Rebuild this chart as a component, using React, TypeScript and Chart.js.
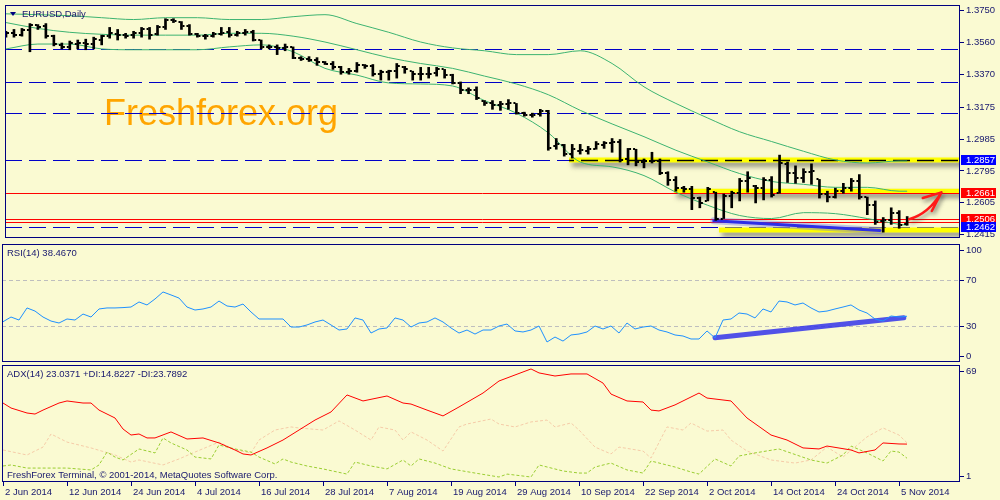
import React, { useEffect, useRef } from 'react';
import { Chart, registerables } from 'chart.js';

Chart.register(...registerables);

// ---------------- data ----------------
const opens = [
  1.3604, 1.3615, 1.3604, 1.3633, 1.3662, 1.3656, 1.3598, 1.3546, 1.3534, 1.3551,
  1.3557, 1.3551, 1.3575, 1.3598, 1.3609, 1.3604, 1.3604, 1.3615, 1.3638, 1.3609,
  1.3650, 1.3697, 1.3685, 1.3656, 1.3609, 1.3598, 1.3598, 1.3609, 1.3621, 1.3604,
  1.3615, 1.3621, 1.3575, 1.3534, 1.3534, 1.3528, 1.3534, 1.3470, 1.3464, 1.3458,
  1.3441, 1.3435, 1.3412, 1.3383, 1.3389, 1.3429, 1.3418, 1.3371, 1.3383, 1.3389,
  1.3412, 1.3389, 1.3371, 1.3371, 1.3377, 1.3400, 1.3366, 1.3319, 1.3278, 1.3278,
  1.3214, 1.3197, 1.3185, 1.3191, 1.3197, 1.3139, 1.3127, 1.3133, 1.3150, 1.2941,
  1.2947, 1.2895, 1.2912, 1.2912, 1.2924, 1.2947, 1.2964, 1.2970, 1.2866, 1.2924,
  1.2848, 1.2854, 1.2854, 1.2784, 1.2738, 1.2692, 1.2686, 1.2633, 1.2616, 1.2668,
  1.2511, 1.2645, 1.2662, 1.2732, 1.2703, 1.2692, 1.2738, 1.2662, 1.2837, 1.2784,
  1.2750, 1.2790, 1.2744, 1.2657, 1.2639, 1.2674, 1.2692, 1.2732, 1.2639, 1.2593,
  1.2494, 1.2505, 1.2546, 1.2476,
];
const highs = [
  1.3627, 1.3638, 1.3644, 1.3673, 1.3667, 1.3673, 1.3604, 1.3557, 1.3569, 1.3575,
  1.3580, 1.3592, 1.3604, 1.3650, 1.3638, 1.3615, 1.3627, 1.3650, 1.3650, 1.3662,
  1.3702, 1.3702, 1.3685, 1.3667, 1.3615, 1.3609, 1.3621, 1.3650, 1.3650, 1.3627,
  1.3638, 1.3633, 1.3575, 1.3546, 1.3546, 1.3551, 1.3534, 1.3476, 1.3476, 1.3470,
  1.3447, 1.3447, 1.3418, 1.3406, 1.3441, 1.3429, 1.3429, 1.3395, 1.3395, 1.3435,
  1.3418, 1.3389, 1.3412, 1.3412, 1.3412, 1.3400, 1.3371, 1.3325, 1.3290, 1.3296,
  1.3214, 1.3214, 1.3209, 1.3220, 1.3197, 1.3145, 1.3139, 1.3162, 1.3156, 1.2988,
  1.2953, 1.2953, 1.2953, 1.2941, 1.2970, 1.2970, 1.2988, 1.2982, 1.2929, 1.2924,
  1.2866, 1.2906, 1.2866, 1.2790, 1.2761, 1.2703, 1.2703, 1.2639, 1.2697, 1.2668,
  1.2657, 1.2674, 1.2750, 1.2790, 1.2709, 1.2755, 1.2761, 1.2889, 1.2848, 1.2825,
  1.2808, 1.2837, 1.2744, 1.2674, 1.2692, 1.2721, 1.2750, 1.2773, 1.2639, 1.2616,
  1.2517, 1.2575, 1.2558, 1.2523,
];
const lows = [
  1.3592, 1.3592, 1.3598, 1.3505, 1.3638, 1.3586, 1.3540, 1.3522, 1.3517, 1.3522,
  1.3517, 1.3522, 1.3546, 1.3586, 1.3575, 1.3586, 1.3586, 1.3592, 1.3580, 1.3604,
  1.3638, 1.3679, 1.3638, 1.3604, 1.3592, 1.3580, 1.3592, 1.3604, 1.3592, 1.3598,
  1.3604, 1.3569, 1.3522, 1.3522, 1.3488, 1.3511, 1.3464, 1.3453, 1.3447, 1.3424,
  1.3429, 1.3400, 1.3371, 1.3371, 1.3383, 1.3406, 1.3360, 1.3336, 1.3336, 1.3348,
  1.3377, 1.3336, 1.3336, 1.3348, 1.3360, 1.3348, 1.3313, 1.3255, 1.3255, 1.3220,
  1.3185, 1.3162, 1.3156, 1.3162, 1.3133, 1.3121, 1.3115, 1.3121, 1.2918, 1.2924,
  1.2883, 1.2871, 1.2895, 1.2895, 1.2924, 1.2929, 1.2906, 1.2848, 1.2831, 1.2825,
  1.2813, 1.2842, 1.2773, 1.2709, 1.2674, 1.2668, 1.2564, 1.2575, 1.2616, 1.2500,
  1.2511, 1.2575, 1.2616, 1.2668, 1.2604, 1.2622, 1.2639, 1.2662, 1.2726, 1.2721,
  1.2726, 1.2715, 1.2633, 1.2610, 1.2633, 1.2662, 1.2674, 1.2627, 1.2534, 1.2476,
  1.2430, 1.2476, 1.2453, 1.2471,
];
const closes = [
  1.3615, 1.3604, 1.3633, 1.3662, 1.3650, 1.3598, 1.3551, 1.3534, 1.3557, 1.3557,
  1.3551, 1.3580, 1.3598, 1.3615, 1.3604, 1.3598, 1.3615, 1.3638, 1.3604, 1.3650,
  1.3697, 1.3691, 1.3656, 1.3609, 1.3598, 1.3598, 1.3609, 1.3615, 1.3604, 1.3615,
  1.3621, 1.3575, 1.3534, 1.3534, 1.3528, 1.3534, 1.3470, 1.3464, 1.3458, 1.3441,
  1.3435, 1.3412, 1.3383, 1.3389, 1.3429, 1.3418, 1.3371, 1.3383, 1.3389, 1.3418,
  1.3400, 1.3371, 1.3371, 1.3371, 1.3400, 1.3366, 1.3319, 1.3278, 1.3278, 1.3232,
  1.3197, 1.3185, 1.3191, 1.3197, 1.3139, 1.3127, 1.3127, 1.3150, 1.2929, 1.2953,
  1.2895, 1.2924, 1.2918, 1.2924, 1.2953, 1.2964, 1.2970, 1.2860, 1.2924, 1.2848,
  1.2854, 1.2854, 1.2784, 1.2738, 1.2692, 1.2686, 1.2633, 1.2604, 1.2686, 1.2511,
  1.2645, 1.2662, 1.2732, 1.2750, 1.2692, 1.2738, 1.2651, 1.2842, 1.2784, 1.2750,
  1.2790, 1.2796, 1.2657, 1.2639, 1.2674, 1.2692, 1.2732, 1.2639, 1.2593, 1.2488,
  1.2505, 1.2546, 1.2471, 1.2506,
];

// Bollinger bands (20, 2) read every 4 bars
const bbIdx = [0, 4, 8, 12, 16, 20, 24, 28, 32, 36, 40, 44, 48, 52, 56, 60, 64, 68, 72, 76, 80, 84, 88, 92, 96, 100, 104, 108, 112, 113];
const bbUpper = [
  1.3731, 1.3726, 1.3720, 1.3708, 1.3697, 1.3708, 1.3708, 1.3697, 1.3697, 1.3714,
  1.3726, 1.3673, 1.3621, 1.3563, 1.3528, 1.3511, 1.3488, 1.3488, 1.3511, 1.3435,
  1.3296, 1.3197, 1.3110, 1.3028, 1.2970, 1.2912, 1.2860, 1.2842, 1.2854, 1.2854,
];
const bbMiddle = [
  1.3679, 1.3644, 1.3621, 1.3609, 1.3604, 1.3604, 1.3604, 1.3615, 1.3615, 1.3598,
  1.3563, 1.3517, 1.3470, 1.3435, 1.3406, 1.3360, 1.3313, 1.3249, 1.3156, 1.3075,
  1.2999, 1.2918, 1.2848, 1.2779, 1.2732, 1.2715, 1.2697, 1.2697, 1.2674, 1.2674,
];
const bbLower = [
  1.3522, 1.3551, 1.3551, 1.3522, 1.3517, 1.3517, 1.3517, 1.3534, 1.3546, 1.3505,
  1.3406, 1.3366, 1.3319, 1.3313, 1.3301, 1.3214, 1.3139, 1.3022, 1.2848, 1.2819,
  1.2767, 1.2668, 1.2590, 1.2529, 1.2511, 1.2546, 1.2540, 1.2511, 1.2476, 1.2471,
];

const priceTicks = [1.2415, 1.2605, 1.2795, 1.2985, 1.3175, 1.3370, 1.3560, 1.3750];
const xTickIdx = [0, 8, 16, 24, 32, 40, 48, 56, 64, 72, 80, 88, 96, 104, 112];
const xTickLabels = [
  '2 Jun 2014', '12 Jun 2014', '24 Jun 2014', '4 Jul 2014', '16 Jul 2014', '28 Jul 2014',
  '7 Aug 2014', '19 Aug 2014', '29 Aug 2014', '10 Sep 2014', '22 Sep 2014', '2 Oct 2014',
  '14 Oct 2014', '24 Oct 2014', '5 Nov 2014',
];

// drawn objects on the price pane
const dashedLevels = [1.3522, 1.3325, 1.3139, 1.2857, 1.2462];
const redLevels = [1.2661, 1.2506, 1.2492];
const yellowLevels = [1.2860, 1.2674, 1.2442];
const yellowStartIdx = [70.6, 83.75, 89.4];
const trendIdx = [88.75, 109.6];
const trendVal = [1.2498, 1.2440];
const arrowShaftIdx = [113.25, 115.7, 117.3];
const arrowShaftVal = [1.2507, 1.2540, 1.2667];
const arrowBarbIdx = [114.96, 116.09];
const arrowBarbVal = [1.2633, 1.2556];
const tagValues = [1.2857, 1.2661, 1.2506, 1.2462];
const tagColors = ['#0000FF', '#FF0000', '#FF0000', '#0000FF'];

// RSI(14)
const rsiVal = [
  33.7, 37.8, 35.2, 45.7, 43.0, 37.8, 34.3, 32.6, 36.1, 35.2,
  40.4, 37.8, 44.8, 45.7, 45.7, 46.0, 46.5, 50.9, 48.3, 53.5,
  59.6, 57.0, 54.3, 46.5, 43.9, 44.8, 46.5, 51.7, 47.4, 46.5,
  49.1, 42.2, 36.1, 36.1, 36.1, 36.1, 29.1, 29.1, 30.9, 33.5,
  35.2, 30.9, 26.5, 27.4, 37.0, 35.2, 23.9, 27.4, 28.3, 37.0,
  35.2, 29.1, 32.6, 33.5, 37.0, 33.5, 28.3, 23.9, 26.5, 23.0,
  26.5, 26.5, 30.0, 31.7, 25.7, 24.8, 26.5, 30.0, 16.1, 20.4,
  16.9, 22.2, 23.0, 24.8, 30.0, 27.4, 30.0, 23.9, 32.6, 27.4,
  29.1, 30.0, 26.5, 24.8, 22.2, 21.3, 18.7, 18.7, 25.7, 19.6,
  35.2, 36.1, 41.3, 40.4, 37.0, 44.8, 42.2, 51.7, 50.9, 48.3,
  50.0, 45.7, 42.2, 43.0, 44.8, 46.5, 48.3, 43.9, 41.3, 36.1,
  34.3, 38.7, 37.8, 38.47,
];
const rsiLevels = [30, 70];
const rsiTicks = [100, 70, 30, 0];
const rsiTrendIdx = [89, 112.6];
const rsiTrendVal = [19.8, 37.2];

// ADX(14), +DI, -DI
const adxIdx = [0, 1, 3, 4, 5, 7, 8, 10, 11, 12, 14, 15, 16, 17, 18, 19, 21, 23, 25, 27, 29, 30, 31, 33, 35, 37, 39, 41, 43, 45, 48, 50, 51, 53, 55, 57, 60, 62, 64, 66, 67, 69, 71, 73, 75, 76, 78, 80, 81, 82, 84, 87, 88, 91, 93, 96, 98, 100, 102, 103, 106, 107, 109, 110, 112, 113];
const adxVal = [46.9, 44.0, 41.1, 40.5, 42.8, 46.9, 48.1, 46.9, 46.9, 42.8, 38.2, 31.8, 28.3, 28.9, 26.6, 26.6, 30.1, 26.0, 26.6, 23.7, 19.6, 17.3, 16.7, 20.8, 25.4, 31.2, 37.0, 41.7, 51.6, 48.1, 51.0, 46.9, 46.3, 42.8, 39.4, 44.6, 52.7, 59.7, 63.2, 66.7, 64.4, 62.6, 63.8, 63.8, 58.5, 52.1, 48.1, 47.5, 42.8, 42.3, 45.8, 52.7, 49.8, 48.1, 38.2, 28.3, 25.4, 20.8, 20.2, 21.9, 19.6, 17.9, 19.6, 23.7, 23.1, 23.04];
const pdiIdx = [0, 1, 3, 6, 8, 11, 12, 13, 14, 15, 17, 19, 20, 21, 23, 24, 26, 27, 29, 31, 32, 34, 35, 36, 38, 40, 43, 44, 46, 48, 50, 51, 52, 54, 56, 59, 62, 63, 66, 67, 70, 72, 73, 74, 76, 78, 80, 81, 84, 86, 87, 89, 91, 92, 94, 97, 101, 103, 105, 106, 108, 110, 111, 112, 113];
const pdiVal = [10.3, 10.9, 9.1, 9.1, 9.1, 8.0, 10.9, 18.4, 15.5, 13.8, 20.2, 17.9, 26.6, 23.7, 19.6, 15.5, 14.4, 22.5, 20.2, 18.4, 15.5, 11.5, 14.4, 12.6, 10.3, 8.6, 5.6, 12.6, 10.3, 8.6, 13.8, 10.3, 14.4, 12.0, 8.6, 6.2, 3.9, 5.6, 3.9, 10.9, 7.4, 6.2, 6.2, 9.7, 12.0, 8.0, 6.2, 13.2, 9.7, 6.8, 5.6, 14.4, 10.3, 16.1, 17.9, 20.2, 13.8, 12.0, 16.7, 21.9, 17.9, 13.2, 19.0, 18.4, 14.82];
const mdiIdx = [0, 3, 5, 6, 8, 11, 14, 16, 17, 20, 22, 24, 27, 29, 31, 32, 34, 36, 37, 40, 42, 44, 46, 47, 49, 50, 51, 53, 55, 57, 58, 61, 62, 64, 66, 68, 69, 71, 72, 74, 76, 77, 80, 81, 83, 85, 86, 88, 90, 91, 93, 96, 99, 101, 103, 105, 108, 110, 112, 113];
const mdiVal = [19.6, 16.7, 21.3, 28.9, 24.2, 20.8, 16.7, 12.6, 13.8, 10.9, 14.4, 18.4, 24.2, 19.6, 17.9, 25.4, 31.2, 33.0, 32.4, 31.2, 36.5, 31.2, 25.4, 33.0, 31.2, 25.4, 30.1, 25.4, 19.0, 33.0, 34.7, 37.6, 34.7, 33.0, 35.9, 37.0, 33.0, 35.3, 31.2, 21.3, 17.3, 21.3, 19.0, 14.9, 33.0, 31.2, 35.3, 30.6, 31.2, 25.4, 19.0, 13.8, 12.0, 13.8, 21.3, 15.5, 27.2, 32.4, 28.3, 23.79];
const adxTicks = [69, 1];

// ---------------- styling ----------------
const X_MIN = -0.125;
const X_MAX = 119.625;
const BG = '#FAFAD2';
const NAVY = '#000080';
const TEXT = '#17176E';
const GREEN = '#3CB371';
const FONT = '"Liberation Sans", Arial, sans-serif';
const FS = 9.5;

const crisp = (v: number) => Math.round(v) + 0.5;
function hline(ctx: CanvasRenderingContext2D, x0: number, y: number, x1: number) {
  ctx.beginPath();
  ctx.moveTo(x0, y);
  ctx.lineTo(x1, y);
  ctx.stroke();
}
function drawFrame(chart: any) {
  const { ctx, chartArea: a } = chart;
  ctx.save();
  ctx.strokeStyle = NAVY;
  ctx.lineWidth = 1;
  ctx.strokeRect(a.left + 0.5, a.top + 0.5, a.right - a.left - 1, a.bottom - a.top - 1);
  ctx.restore();
}
function drawLabel(ctx: CanvasRenderingContext2D, text: string, x: number, y: number) {
  ctx.save();
  ctx.font = `${FS}px ${FONT}`;
  ctx.fillStyle = TEXT;
  ctx.textAlign = 'left';
  ctx.textBaseline = 'middle';
  ctx.fillText(text, x, y);
  ctx.restore();
}
function drawSideLabels(chart: any, values: number[]) {
  const { ctx, chartArea: a } = chart;
  const s = chart.scales.y;
  ctx.save();
  ctx.strokeStyle = NAVY;
  ctx.lineWidth = 1;
  values.forEach((v) => {
    let py = s.getPixelForValue(v);
    py = Math.min(Math.max(py, a.top + 6), a.bottom - 6);
    hline(ctx, a.right, crisp(py), a.right + 4);
    drawLabel(ctx, String(v), a.right + 6, py);
  });
  ctx.restore();
}
function makeTick(left: boolean) {
  const c = document.createElement('canvas');
  c.width = 8;
  c.height = 2;
  const g = c.getContext('2d')!;
  g.fillStyle = '#000000';
  if (left) g.fillRect(1, 0, 2, 2);
  else g.fillRect(5, 0, 2, 2);
  return c;
}
function hiddenX() {
  return { type: 'linear', min: X_MIN, max: X_MAX, offset: false, display: false };
}
function sideY(min: number, max: number) {
  return {
    type: 'linear', position: 'right', min, max,
    ticks: { display: false }, grid: { display: false }, border: { display: false },
    afterFit: (s: any) => { s.width = 40; s.paddingTop = 0; s.paddingBottom = 0; },
  };
}
function base(padding: any) {
  return {
    responsive: false, animation: false, devicePixelRatio: 1, events: [],
    layout: { padding },
    plugins: { legend: { display: false }, tooltip: { enabled: false } },
  };
}
const pts = (idx: number[], vals: number[]) => idx.map((x, k) => ({ x, y: vals[k] }));

const pricePlugin = {
  id: 'pricePane',
  beforeDatasetsDraw(chart: any) {
    const { ctx, chartArea: a } = chart;
    const xs = chart.scales.x;
    const ys = chart.scales.y;
    ctx.save();
    ctx.beginPath();
    ctx.rect(a.left, a.top, a.right - a.left, a.bottom - a.top);
    ctx.clip();
    ctx.font = `36px ${FONT}`;
    ctx.fillStyle = '#FFA500';
    ctx.textAlign = 'left';
    ctx.textBaseline = 'alphabetic';
    ctx.fillText('Freshforex.org', a.left + 99, a.top + 120);

    ctx.lineWidth = 1;
    ctx.strokeStyle = '#0000C8';
    ctx.setLineDash([17, 7]);
    dashedLevels.forEach((v) => hline(ctx, a.left, crisp(ys.getPixelForValue(v)), a.right));
    ctx.setLineDash([]);

    yellowLevels.forEach((v, k) => {
      const py = ys.getPixelForValue(v);
      const x0 = xs.getPixelForValue(yellowStartIdx[k]);
      ctx.save();
      ctx.shadowColor = 'rgba(60,60,60,0.6)';
      ctx.shadowBlur = 5;
      ctx.shadowOffsetX = 3;
      ctx.shadowOffsetY = 4;
      ctx.strokeStyle = '#FFFF00';
      ctx.lineWidth = 5;
      hline(ctx, x0, py, a.right + 10);
      ctx.restore();
      dashedLevels.forEach((d) => {
        const dy = crisp(ys.getPixelForValue(d));
        if (Math.abs(dy - py) < 2) {
          ctx.save();
          ctx.beginPath();
          ctx.rect(x0, dy - 3, a.right - x0, 6);
          ctx.clip();
          ctx.setLineDash([17, 7]);
          ctx.strokeStyle = '#000000';
          ctx.lineWidth = 1.5;
          hline(ctx, a.left, dy, a.right);
          ctx.restore();
        }
      });
    });

    ctx.strokeStyle = '#FF0000';
    ctx.lineWidth = 1;
    redLevels.forEach((v) => hline(ctx, a.left, crisp(ys.getPixelForValue(v)), a.right));

    const tx0 = xs.getPixelForValue(trendIdx[0]);
    const ty0 = ys.getPixelForValue(trendVal[0]);
    const tx1 = xs.getPixelForValue(trendIdx[1]);
    const ty1 = ys.getPixelForValue(trendVal[1]);
    ctx.lineCap = 'round';
    ctx.strokeStyle = 'rgba(90,90,255,0.35)';
    ctx.lineWidth = 7;
    ctx.beginPath(); ctx.moveTo(tx0, ty0); ctx.lineTo(tx1, ty1); ctx.stroke();
    ctx.strokeStyle = '#2E2EE6';
    ctx.lineWidth = 3;
    ctx.beginPath(); ctx.moveTo(tx0, ty0); ctx.lineTo(tx1, ty1); ctx.stroke();
    ctx.restore();
  },
  afterDatasetsDraw(chart: any) {
    const { ctx } = chart;
    const xs = chart.scales.x;
    const ys = chart.scales.y;
    const p = arrowShaftIdx.map((v, k) => [xs.getPixelForValue(v), ys.getPixelForValue(arrowShaftVal[k])]);
    ctx.save();
    ctx.shadowColor = 'rgba(60,60,60,0.55)';
    ctx.shadowBlur = 4;
    ctx.shadowOffsetX = 2;
    ctx.shadowOffsetY = 3;
    ctx.strokeStyle = '#FF1A1A';
    ctx.lineWidth = 2.5;
    ctx.lineCap = 'round';
    ctx.lineJoin = 'round';
    ctx.beginPath();
    ctx.moveTo(p[0][0], p[0][1]);
    ctx.quadraticCurveTo(p[1][0], p[1][1], p[2][0], p[2][1]);
    arrowBarbIdx.forEach((v, k) => {
      ctx.moveTo(p[2][0], p[2][1]);
      ctx.lineTo(xs.getPixelForValue(v), ys.getPixelForValue(arrowBarbVal[k]));
    });
    ctx.stroke();
    ctx.restore();
  },
  afterDraw(chart: any) {
    const { ctx, chartArea: a } = chart;
    const ys = chart.scales.y;
    drawFrame(chart);
    ctx.save();
    ctx.fillStyle = NAVY;
    ctx.beginPath();
    ctx.moveTo(a.left + 5, a.top + 7);
    ctx.lineTo(a.left + 11, a.top + 7);
    ctx.lineTo(a.left + 8, a.top + 11);
    ctx.closePath();
    ctx.fill();
    ctx.restore();
    drawLabel(ctx, 'EURUSD,Daily', a.left + 17, a.top + 9);
    ctx.save();
    ctx.font = `${FS}px ${FONT}`;
    ctx.textAlign = 'left';
    ctx.textBaseline = 'middle';
    tagValues.forEach((v, k) => {
      const py = Math.round(ys.getPixelForValue(v));
      ctx.fillStyle = tagColors[k];
      ctx.fillRect(a.right + 1, py - 5, 35, 10);
      ctx.fillStyle = '#FFFFFF';
      ctx.fillText(v.toFixed(4), a.right + 6, py);
    });
    ctx.restore();
  },
};

const rsiPlugin = {
  id: 'rsiPane',
  beforeDatasetsDraw(chart: any) {
    const { ctx, chartArea: a } = chart;
    const ys = chart.scales.y;
    ctx.save();
    ctx.strokeStyle = '#BEBEBE';
    ctx.lineWidth = 1;
    ctx.setLineDash([4, 3]);
    rsiLevels.forEach((v) => hline(ctx, a.left, crisp(ys.getPixelForValue(v)), a.right));
    ctx.restore();
  },
  afterDraw(chart: any) {
    const { ctx, chartArea: a } = chart;
    drawFrame(chart);
    drawLabel(ctx, 'RSI(14) 38.4670', a.left + 5, a.top + 9);
    drawSideLabels(chart, rsiTicks);
  },
};

const adxPlugin = {
  id: 'adxPane',
  afterDraw(chart: any) {
    const { ctx, chartArea: a } = chart;
    drawFrame(chart);
    drawLabel(ctx, 'ADX(14) 23.0371 +DI:14.8227 -DI:23.7892', a.left + 5, a.top + 9);
    drawLabel(ctx, 'FreshForex Terminal, © 2001-2014, MetaQuotes Software Corp.', a.left + 5, a.bottom - 7);
    drawSideLabels(chart, adxTicks);
  },
};

export default function App() {
  const pRef = useRef<HTMLCanvasElement>(null);
  const rRef = useRef<HTMLCanvasElement>(null);
  const aRef = useRef<HTMLCanvasElement>(null);

  useEffect(() => {
    const openImg = makeTick(true);
    const closeImg = makeTick(false);
    const bb = (vals: number[]) => ({
      type: 'line', data: pts(bbIdx, vals), borderColor: GREEN, borderWidth: 1,
      pointRadius: 0, cubicInterpolationMode: 'monotone', fill: false, order: 3,
    });
    const charts: Chart[] = [];

    charts.push(new Chart(pRef.current as HTMLCanvasElement, {
      type: 'line',
      data: {
        datasets: [
          bb(bbUpper), bb(bbMiddle), bb(bbLower),
          {
            type: 'bar', data: highs.map((h, i) => ({ x: i, y: [lows[i], h] })),
            backgroundColor: '#000000', borderWidth: 0, barThickness: 2, order: 1,
          },
          { type: 'line', showLine: false, data: opens.map((v, i) => ({ x: i, y: v })), pointStyle: openImg, pointRadius: 3, order: 0 },
          { type: 'line', showLine: false, data: closes.map((v, i) => ({ x: i, y: v })), pointStyle: closeImg, pointRadius: 3, order: 0 },
        ],
      } as any,
      options: {
        ...base({ left: 2, top: 2, right: 0, bottom: 2 }),
        scales: {
          x: hiddenX(),
          y: {
            type: 'linear', position: 'right', min: 1.2395, max: 1.37837,
            afterBuildTicks: (s: any) => { s.ticks = priceTicks.map((v) => ({ value: v })); },
            afterFit: (s: any) => { s.width = 40; s.paddingTop = 0; s.paddingBottom = 0; },
            ticks: { autoSkip: false, padding: 2, color: TEXT, font: { family: FONT, size: FS }, callback: (v: any) => Number(v).toFixed(4) },
            grid: { drawOnChartArea: false, drawTicks: true, tickLength: 4, color: NAVY },
            border: { display: false },
          },
        },
      } as any,
      plugins: [pricePlugin],
    }));

    charts.push(new Chart(rRef.current as HTMLCanvasElement, {
      type: 'line',
      data: {
        datasets: [
          { data: rsiVal.map((v, i) => ({ x: i, y: v })), borderColor: '#1E90FF', borderWidth: 1, pointRadius: 0, order: 0 },
          { data: pts(rsiTrendIdx, rsiTrendVal), borderColor: 'rgba(50,50,235,0.85)', borderWidth: 5, pointRadius: 0, borderCapStyle: 'round', order: 1 },
        ],
      } as any,
      options: {
        ...base({ left: 2, top: 1, right: 0, bottom: 2 }),
        scales: { x: hiddenX(), y: sideY(-1.3, 101.3) },
      } as any,
      plugins: [rsiPlugin],
    }));

    charts.push(new Chart(aRef.current as HTMLCanvasElement, {
      type: 'line',
      data: {
        datasets: [
          { data: pts(adxIdx, adxVal), borderColor: '#FF0000', borderWidth: 1, pointRadius: 0, order: 0 },
          { data: pts(pdiIdx, pdiVal), borderColor: '#9ACD32', borderWidth: 1, borderDash: [3, 2], pointRadius: 0, order: 1 },
          { data: pts(mdiIdx, mdiVal), borderColor: '#F5CBA8', borderWidth: 1, borderDash: [3, 2], pointRadius: 0, order: 2 },
        ],
      } as any,
      options: {
        ...base({ left: 2, top: 1, right: 0, bottom: 0 }),
        scales: {
          x: {
            type: 'linear', min: X_MIN, max: X_MAX, offset: false, position: 'bottom',
            afterBuildTicks: (s: any) => { s.ticks = xTickIdx.map((v) => ({ value: v })); },
            afterFit: (s: any) => { s.height = 18; s.paddingLeft = 0; s.paddingRight = 0; },
            ticks: {
              autoSkip: false, maxRotation: 0, minRotation: 0, align: 'start', padding: 1, labelOffset: 2,
              color: TEXT, font: { family: FONT, size: FS },
              callback: (_v: any, i: number) => xTickLabels[i],
            },
            grid: { drawOnChartArea: false, drawTicks: true, tickLength: 4, color: NAVY },
            border: { display: false },
          },
          y: sideY(1, 69),
        },
      } as any,
      plugins: [adxPlugin],
    }));

    return () => charts.forEach((c) => c.destroy());
  }, []);

  return (
    <div style={{ position: 'absolute', left: 0, top: 0, width: 1000, height: 500, background: BG, overflow: 'hidden' }}>
      <canvas ref={pRef} width={1000} height={243} style={{ position: 'absolute', left: 0, top: 0 }} />
      <canvas ref={rRef} width={1000} height={121} style={{ position: 'absolute', left: 0, top: 243 }} />
      <canvas ref={aRef} width={1000} height={136} style={{ position: 'absolute', left: 0, top: 364 }} />
    </div>
  );
}
